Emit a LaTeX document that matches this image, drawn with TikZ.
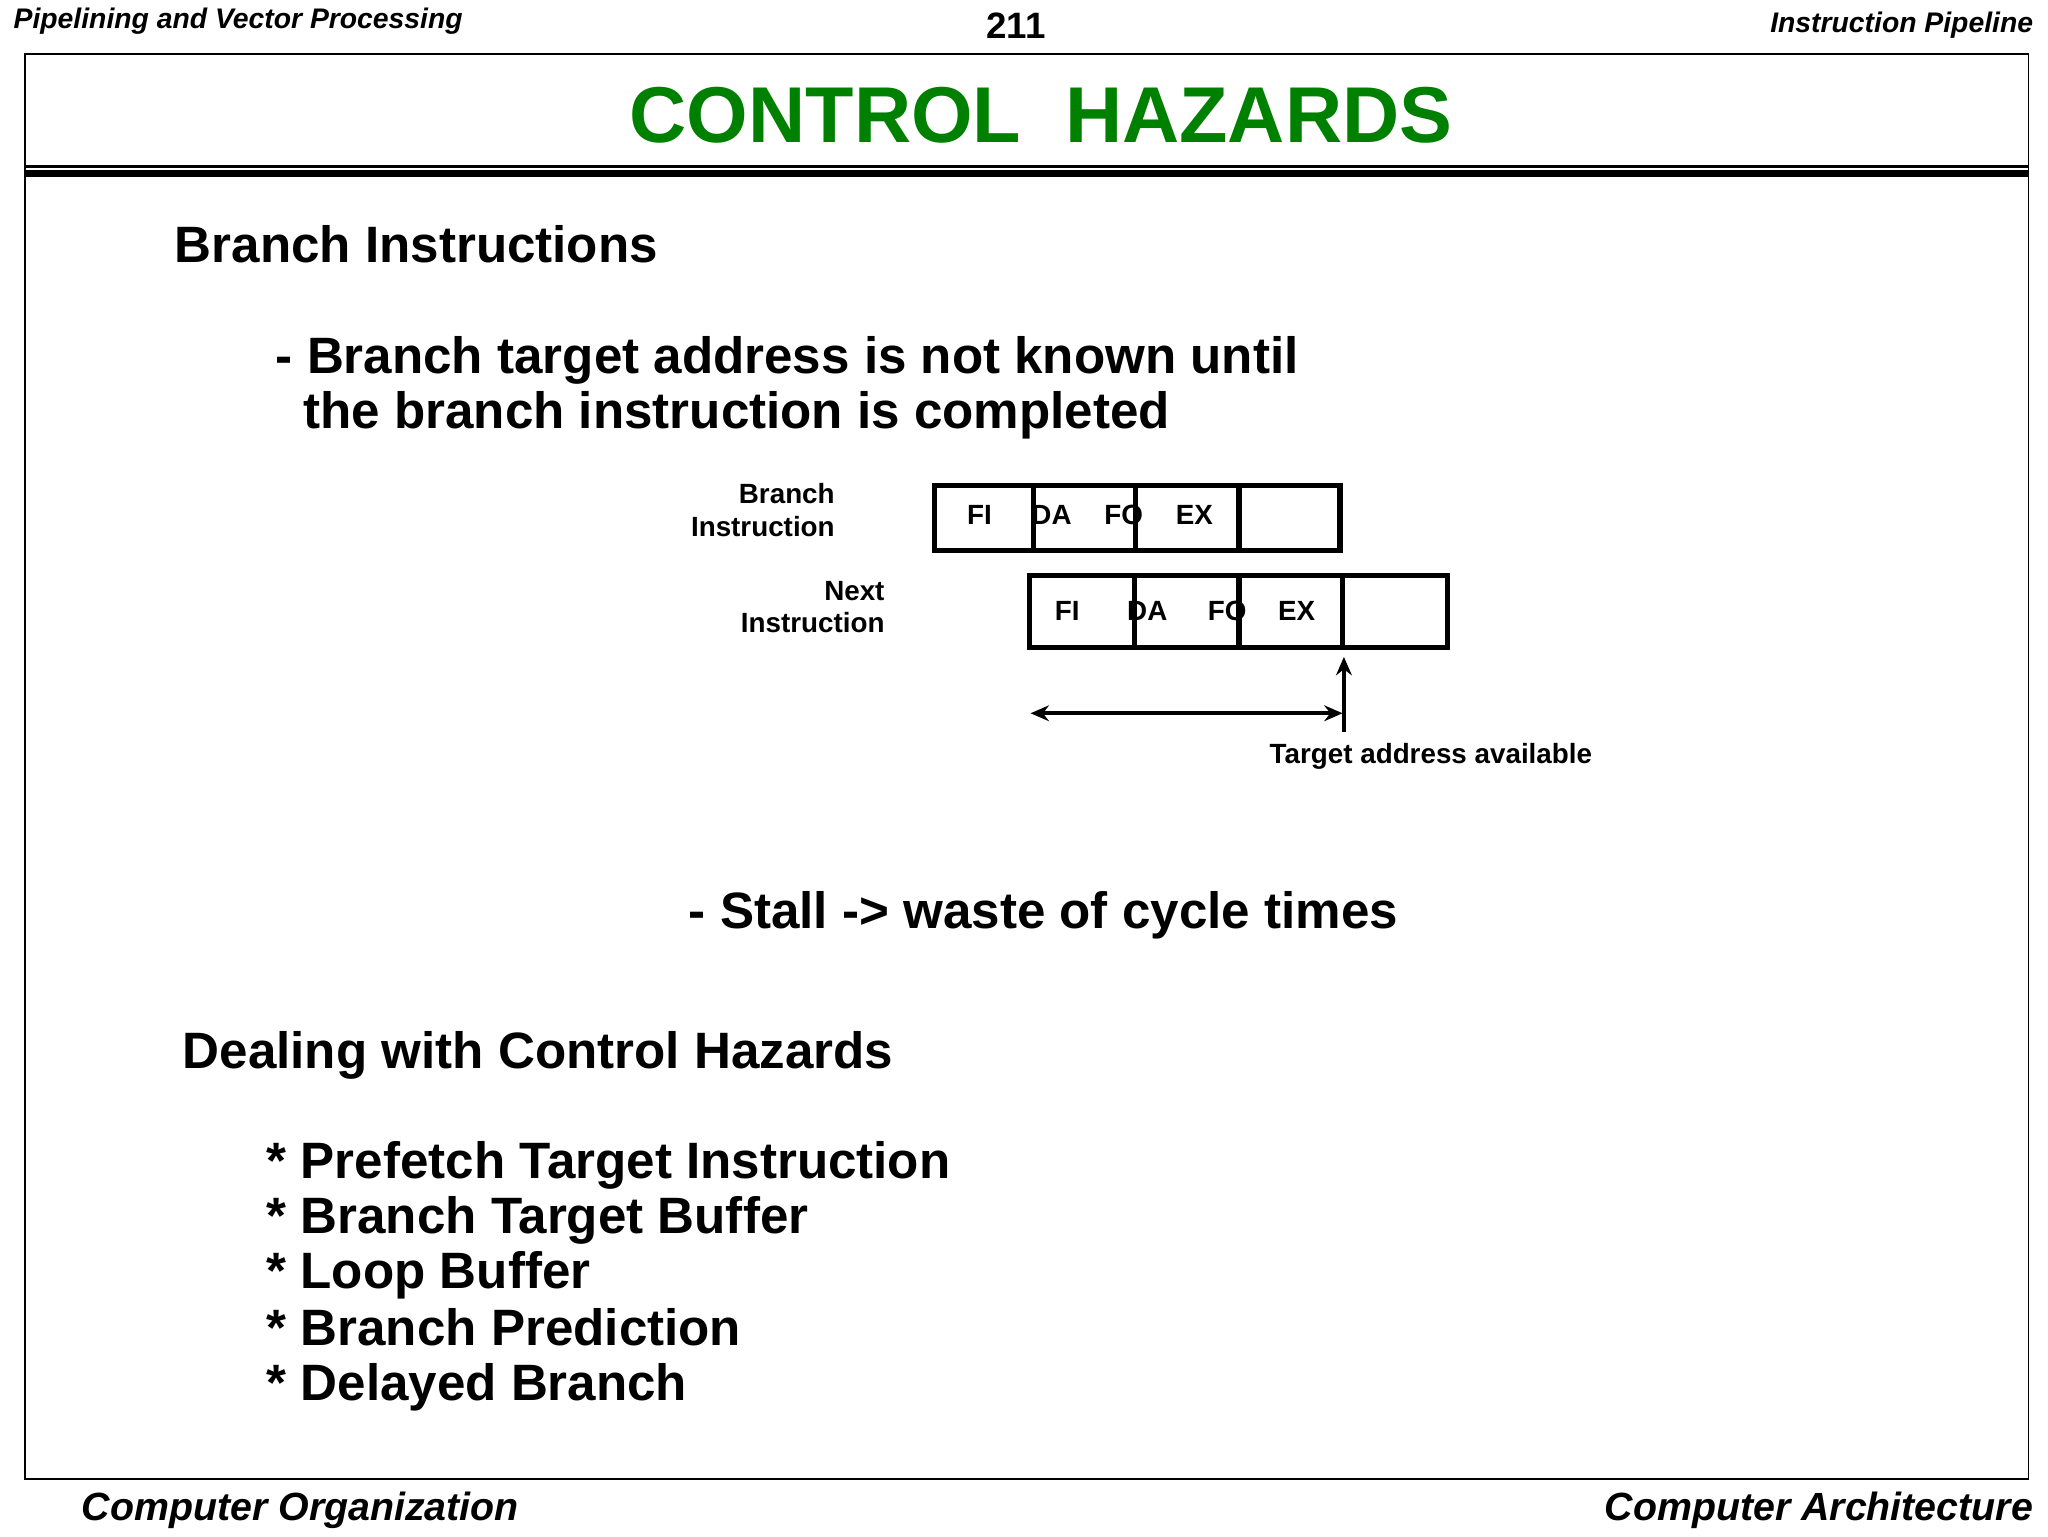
\documentclass[tikz,border=0pt]{standalone}
\usepackage{fontspec}
\setmainfont{Liberation Sans}
\usetikzlibrary{arrows.meta}
\definecolor{titlegreen}{RGB}{0,128,0}
\begin{document}
\begin{tikzpicture}[x=0.5pt,y=-0.5pt,
  hdr/.style={font=\fontsize{10.8}{12}\selectfont\bfseries\itshape,inner sep=0},
  body/.style={font=\fontsize{19.5}{23}\selectfont\bfseries,inner sep=0,anchor=base west},
  lbl/.style={font=\fontsize{10.6}{12.5}\selectfont\bfseries,inner sep=0},
  stagebox/.style={draw,line width=2pt},
  foot/.style={font=\fontsize{15}{18}\selectfont\bfseries\itshape,inner sep=0,anchor=base}]
\useasboundingbox (0,0) rectangle (1562,1172);
\fill[white] (0,0) rectangle (1562,1172);
% header
\node[hdr,anchor=base west] (h1) at (10,22) {Pipelining and Vector Processing};
\node[font=\fontsize{14}{16}\selectfont\bfseries,inner sep=0,anchor=base] (pg) at (775,29) {211};
\node[hdr,anchor=base east] (h2) at (1551,25) {Instruction Pipeline};
% frame
\draw[line width=0.6pt] (19,41) rectangle (1547,1128);
\draw[line width=1pt] (19,127) -- (1547,127);
\draw[line width=2.5pt] (19,132.5) -- (1547,132.5);
\node[font=\fontsize{30.2}{36}\selectfont\bfseries,text=titlegreen,inner sep=0,anchor=base] (title) at (794,109) {CONTROL\ \ HAZARDS};
% text
\node[body] (t1) at (133,200) {Branch Instructions};
\node[body] (t2) at (210,285) {- Branch target address is not known until};
\node[body] (t3) at (231,327) {the branch instruction is completed};
% diagram row 1
\draw[stagebox] (713,370) rectangle (1022,420);
\foreach \x in {788,866,945} \draw[line width=2pt] (\x,370) -- (\x,420);
\node[lbl] (b1) at (747,393) {FI};
\node[lbl] (b2) at (802,393) {DA};
\node[lbl] (b3) at (857,393) {FO};
\node[lbl] (b4) at (911,393) {EX};
\node[lbl,align=right,anchor=east] (bl) at (637,389) {Branch\\Instruction};
% row 2
\draw[stagebox] (785,439) rectangle (1104,494);
\foreach \x in {865,945,1024} \draw[line width=2pt] (\x,439) -- (\x,494);
\node[lbl] (n1) at (814,466) {FI};
\node[lbl] (n2) at (875,466) {DA};
\node[lbl] (n3) at (936,466) {FO};
\node[lbl] (n4) at (989,466) {EX};
\node[lbl,align=right,anchor=east] (nl) at (675,463) {Next\\Instruction};
% arrows
\coordinate (ub) at (1025,558);
\coordinate (ut) at (1025,501);
\draw[line width=1.6pt,-{Stealth[length=7pt,width=6pt]}] (ub) -- (ut);
\coordinate (hl) at (786,544);
\coordinate (hr) at (1024,544);
\draw[line width=1.6pt,{Stealth[length=7pt,width=6pt]}-{Stealth[length=7pt,width=6pt]}] (hl) -- (hr);
\node[lbl,anchor=west] (tav) at (968,577) {Target address available};
% more text
\node[body] (t4) at (525,708) {- Stall -> waste of cycle times};
\node[body] (t5) at (139,815) {Dealing with Control Hazards};
\node[body] (l1) at (203,899) {* Prefetch Target Instruction};
\node[body] (l2) at (203,941) {* Branch Target Buffer};
\node[body] (l3) at (203,983) {* Loop Buffer};
\node[body] (l4) at (203,1026) {* Branch Prediction};
\node[body] (l5) at (203,1068) {* Delayed Branch};
% footer
\node[foot,anchor=base west] (f1) at (62,1160) {Computer Organization};
\node[foot,anchor=base east] (f2) at (1551,1160) {Computer Architecture};
\end{tikzpicture}
\end{document}
